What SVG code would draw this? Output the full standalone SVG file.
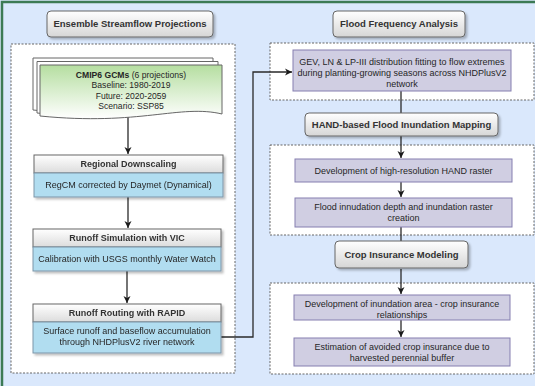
<svg xmlns="http://www.w3.org/2000/svg" width="535" height="386" viewBox="0 0 535 386">
<defs>
  <linearGradient id="gTitle" x1="0" y1="0" x2="0" y2="1">
    <stop offset="0" stop-color="#ffffff"/>
    <stop offset="1" stop-color="#d6d6d6"/>
  </linearGradient>
  <linearGradient id="gHdr" x1="0" y1="0" x2="0" y2="1">
    <stop offset="0" stop-color="#ffffff"/>
    <stop offset="1" stop-color="#dcdcdc"/>
  </linearGradient>
  <linearGradient id="gDoc" x1="0" y1="0" x2="0" y2="1">
    <stop offset="0" stop-color="#b5dea0"/>
    <stop offset="1" stop-color="#ffffff"/>
  </linearGradient>
  <filter id="sh" x="-10%" y="-10%" width="130%" height="150%">
    <feDropShadow dx="2" dy="2" stdDeviation="1" flood-color="#000" flood-opacity="0.25"/>
  </filter>
  <marker id="arr" markerUnits="userSpaceOnUse" markerWidth="10" markerHeight="10" refX="7" refY="4" orient="auto">
    <path d="M0,0.5 L7,4 L0,7.5 L2,4 Z" fill="#1a1a1a"/>
  </marker>
</defs>
<style>
  text { font-family: "Liberation Sans", Arial, sans-serif; fill: #262626; text-anchor: middle; }
  .tt { font-size: 9.5px; font-weight: bold; fill: #333; }
  .ht { font-size: 9px; font-weight: bold; fill: #333; }
  .bt { font-size: 9px; }
  .dt { font-size: 8.6px; }
  .title { fill: url(#gTitle); stroke: #666; stroke-width: 1; filter: url(#sh); }
  .cont { fill: #ffffff; stroke: #666; stroke-width: 1; stroke-dasharray: 2 1.5; }
  .hdr { fill: url(#gHdr); stroke: #666; stroke-width: 1; }
  .body { fill: #b1ddf0; stroke: #7d95a8; stroke-width: 1; }
  .pur { fill: #d0cee2; stroke: #857fb0; stroke-width: 1; }
  .page { fill: #ffffff; stroke: #666; stroke-width: 1; }
  .edge { fill: none; stroke: #2a2a2a; stroke-width: 1.3; }
</style>

<rect x="0" y="0" width="535" height="386" fill="#dae8fc"/>
<rect x="2" y="2" width="560" height="420" fill="none" stroke="#3c7a55" stroke-width="2.5"/>

<!-- containers -->
<g id="containers">
  <rect class="cont" x="11" y="44" width="224" height="329"/>
  <rect class="cont" x="270" y="43" width="264" height="57"/>
  <rect class="cont" x="270" y="145" width="264" height="90"/>
  <rect class="cont" x="270" y="283" width="264" height="91"/>
</g>

<!-- connectors -->
<g id="connectors">
  <path class="edge" d="M128,116 V154" marker-end="url(#arr)"/>
  <path class="edge" d="M128,197 V228" marker-end="url(#arr)"/>
  <path class="edge" d="M127,271 V303" marker-end="url(#arr)"/>
  <path class="edge" d="M221,337 H253 V72 H292" marker-end="url(#arr)" stroke="#4d4d4d"/>
  <path class="edge" d="M401,91 V113"/>
  <path class="edge" d="M401,136 V158" marker-end="url(#arr)"/>
  <path class="edge" d="M401,182 V197" marker-end="url(#arr)"/>
  <path class="edge" d="M401,227 V241"/>
  <path class="edge" d="M401,269 V294" marker-end="url(#arr)"/>
  <path class="edge" d="M401,320 V337" marker-end="url(#arr)"/>
</g>

<g id="title-ensemble">
  <rect class="title" x="47" y="11" width="166" height="26" rx="4"/>
  <text class="tt" x="130" y="27.4">Ensemble Streamflow Projections</text>
</g>

<g id="cmip6">
  <path class="page" d="M33,58 H213 V108 C170,98 130,120 33,110 Z"/>
  <path class="page" d="M37,61.5 H218 V111 C175,101 135,123 37,113 Z"/>
  <path d="M40,65 H222 V114 C180,104 140,126 40,116 Z" fill="url(#gDoc)" stroke="#666" stroke-width="1"/>
  <text class="dt" x="131" y="78"><tspan font-weight="bold">CMIP6 GCMs</tspan> (6 projections)</text>
  <text class="dt" x="131" y="88.3">Baseline: 1980-2019</text>
  <text class="dt" x="131" y="98.6">Future: 2020-2059</text>
  <text class="dt" x="131" y="108.9">Scenario: SSP85</text>
</g>

<g id="regional-downscaling" filter="url(#sh)">
  <rect class="hdr" x="34" y="155" width="189" height="18"/>
  <rect class="body" x="34" y="173" width="189" height="24"/>
  <text class="ht" x="128.5" y="167.2">Regional Downscaling</text>
  <text class="bt" x="128.5" y="188.2">RegCM corrected by Daymet (Dynamical)</text>
</g>

<g id="runoff-vic" filter="url(#sh)">
  <rect class="hdr" x="33" y="229" width="188" height="18"/>
  <rect class="body" x="33" y="247" width="188" height="24"/>
  <text class="ht" x="127" y="241.2">Runoff Simulation with VIC</text>
  <text class="bt" x="127" y="262.2">Calibration with USGS monthly Water Watch</text>
</g>

<g id="runoff-rapid" filter="url(#sh)">
  <rect class="hdr" x="33" y="304" width="188" height="18"/>
  <rect class="body" x="33" y="322" width="188" height="31"/>
  <text class="ht" x="127" y="316.2">Runoff Routing with RAPID</text>
  <text class="bt" x="127" y="334.2">Surface runoff and baseflow accumulation</text>
  <text class="bt" x="127" y="345.2">through NHDPlusV2 river network</text>
</g>

<g id="title-ffa">
  <rect class="title" x="333" y="11" width="132" height="26" rx="4"/>
  <text class="tt" x="399" y="27.4">Flood Frequency Analysis</text>
</g>

<g id="gev">
  <rect class="pur" x="293" y="50" width="218" height="41"/>
  <text class="bt" x="402" y="65.2">GEV, LN &amp; LP-III distribution fitting to flow extremes</text>
  <text class="bt" x="402" y="76">during planting-growing seasons across NHDPlusV2</text>
  <text class="bt" x="402" y="86.8">network</text>
</g>

<g id="title-hand">
  <rect class="title" x="305" y="113" width="193" height="23" rx="4"/>
  <text class="tt" x="401.5" y="127.9">HAND-based Flood Inundation Mapping</text>
</g>

<g id="dev-hand">
  <rect class="pur" x="295" y="159" width="217" height="23"/>
  <text class="bt" x="403.5" y="173.7">Development of high-resolution HAND raster</text>
</g>

<g id="flood-depth">
  <rect class="pur" x="295" y="198" width="217" height="29"/>
  <text class="bt" x="403.5" y="210">Flood innudation depth and inundation raster</text>
  <text class="bt" x="403.5" y="221">creation</text>
</g>

<g id="title-crop">
  <rect class="title" x="335" y="241" width="133" height="27" rx="4"/>
  <text class="tt" x="401.5" y="257.8">Crop Insurance Modeling</text>
</g>

<g id="dev-inund">
  <rect class="pur" x="294" y="295" width="216" height="25"/>
  <text class="bt" x="402" y="307.2">Development of inundation area - crop insurance</text>
  <text class="bt" x="402" y="317.6">relationships</text>
</g>

<g id="estimation">
  <rect class="pur" x="294" y="338" width="216" height="28"/>
  <text class="bt" x="402" y="350">Estimation of avoided crop insurance due to</text>
  <text class="bt" x="402" y="361">harvested perennial buffer</text>
</g>
</svg>
